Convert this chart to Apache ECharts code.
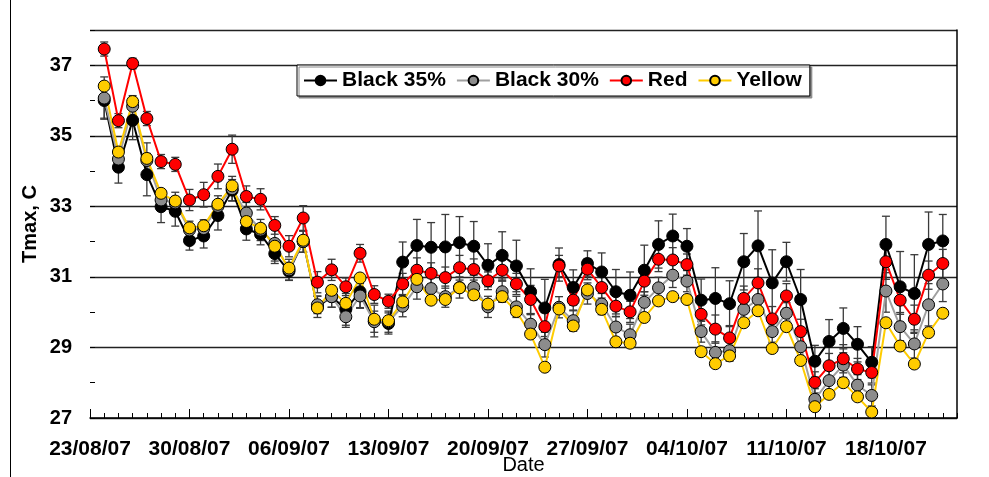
<!DOCTYPE html>
<html>
<head>
<meta charset="utf-8">
<script src="https://cdn.jsdelivr.net/npm/echarts@6/dist/echarts.min.js"></script>
<style>
html,body{margin:0;padding:0;background:#fff;}
#chart{width:989px;height:477px;}
</style>
</head>
<body>
<div id="chart"></div>
<script>
// Start date for day 0 of the x axis
const startDate = [2007, 7, 23];
const dayStart = 1; // first measurement day (24/08/07)

const black35 = [36.0,34.11,35.44,33.9,32.99,32.86,32.03,32.16,32.74,33.46,32.36,32.21,31.66,31.16,32.0,30.15,30.44,30.08,30.58,29.75,29.68,31.42,31.89,31.84,31.85,31.97,31.87,31.33,31.61,31.31,30.58,30.12,31.35,30.7,31.38,31.14,30.58,30.48,31.19,31.92,32.16,31.87,30.34,30.39,30.24,31.43,31.88,30.83,31.43,30.36,28.61,29.17,29.54,29.09,28.58,31.92,30.72,30.53,31.92,32.02];
const black30 = [36.07,34.34,35.84,34.3,33.18,33.1,32.33,32.37,33.0,33.5,32.81,32.33,31.95,31.2,32.0,30.21,30.44,29.87,30.46,29.73,29.73,30.17,30.72,30.67,30.44,30.7,30.7,30.15,30.58,30.15,29.66,29.08,30.14,29.76,30.53,30.23,29.58,29.36,30.28,30.69,31.05,30.88,29.45,28.86,28.91,30.08,30.36,29.45,29.97,29.02,27.53,28.06,28.5,27.93,27.64,30.6,29.59,29.1,30.21,30.8];
const red = [37.46,35.43,37.05,35.49,34.27,34.19,33.18,33.33,33.85,34.62,33.28,33.2,32.46,31.87,32.67,30.85,31.2,30.72,31.67,30.5,30.31,30.8,31.19,31.1,30.98,31.26,31.21,30.89,31.19,30.8,30.36,29.59,31.31,30.34,31.22,30.7,30.17,30.01,30.88,31.5,31.48,31.35,29.94,29.52,29.27,30.39,30.83,29.81,30.46,29.45,28.01,28.48,28.68,28.39,28.29,31.43,30.34,29.8,31.05,31.38];
const yellow = [36.41,34.54,35.97,34.36,33.37,33.15,32.39,32.45,33.06,33.58,32.57,32.38,31.87,31.25,32.04,30.12,30.62,30.25,30.97,29.8,29.76,30.29,30.93,30.34,30.36,30.69,30.49,30.23,30.44,30.02,29.38,28.44,30.09,29.61,30.63,30.08,29.16,29.12,29.85,30.32,30.44,30.36,28.88,28.54,28.76,29.7,30.04,28.97,29.59,28.63,27.32,27.67,28.0,27.6,27.17,29.7,29.04,28.53,29.42,29.97];

const errBlack35 = [0.5,0.45,0.55,0.6,0.45,0.42,0.27,0.34,0.41,0.3,0.32,0.3,0.28,0.25,0.3,0.3,0.3,0.45,0.45,0.45,0.3,0.57,0.74,0.7,0.92,0.74,0.7,0.61,0.67,0.73,0.65,0.81,0.47,0.5,0.36,0.54,0.63,0.66,0.71,0.67,0.62,0.5,0.6,0.87,0.65,0.8,0.99,0.94,0.55,0.85,0.45,0.62,0.58,0.5,0.44,0.8,1.0,1.1,0.92,0.75];
const errBlack30 = [0.6,0.35,0.3,0.5,0.3,0.3,0.25,0.25,0.3,0.35,0.3,0.3,0.5,0.3,0.3,0.25,0.3,0.3,0.35,0.3,0.3,0.3,0.35,0.35,0.3,0.3,0.35,0.3,0.3,0.3,0.3,0.35,0.3,0.3,0.3,0.3,0.3,0.3,0.3,0.3,0.35,0.3,0.3,0.3,0.3,0.3,0.35,0.3,0.3,0.3,0.3,0.3,0.35,0.3,0.3,0.6,0.4,0.4,0.6,0.5];
const errRed = [0.2,0.2,0.15,0.2,0.2,0.2,0.3,0.35,0.35,0.4,0.3,0.3,0.25,0.3,0.35,0.3,0.3,0.25,0.25,0.25,0.2,0.3,0.35,0.3,0.3,0.35,0.3,0.25,0.3,0.3,0.4,0.4,0.3,0.3,0.3,0.3,0.3,0.3,0.3,0.35,0.35,0.3,0.3,0.4,0.35,0.35,0.4,0.35,0.35,0.35,0.3,0.35,0.4,0.3,0.3,0.5,0.4,0.4,0.4,0.4];

const seriesNames = ['Black 35%','Black 30%','Red','Yellow'];
const yTicks = [27,29,31,33,35,37];

function pts(vals){ return vals.map((v,i)=>[dayStart+i, v]); }
function errs(vals, e){ return vals.map((v,i)=>[dayStart+i, v-e[i], v+e[i]]); }

function fmtDate(v){
  if (v % 7 !== 0) return '';
  const d = new Date(startDate[0], startDate[1], startDate[2] + v);
  const dd = String(d.getDate()).padStart(2,'0');
  const mm = String(d.getMonth()+1).padStart(2,'0');
  const yy = String(d.getFullYear()).slice(2);
  return dd + '/' + mm + '/' + yy;
}

function errRender(params, api){
  const x = api.value(0);
  const lo = api.coord([x, api.value(1)]);
  const hi = api.coord([x, api.value(2)]);
  const w = 4;
  const st = {stroke:'#3a3a3a', lineWidth:1.3};
  return {type:'group', children:[
    {type:'line', shape:{x1:lo[0],y1:lo[1],x2:hi[0],y2:hi[1]}, style:st},
    {type:'line', shape:{x1:lo[0]-w,y1:lo[1],x2:lo[0]+w,y2:lo[1]}, style:st},
    {type:'line', shape:{x1:hi[0]-w,y1:hi[1],x2:hi[0]+w,y2:hi[1]}, style:st}
  ]};
}

const font = 'Liberation Sans, Arial, sans-serif';
const chart = echarts.init(document.getElementById('chart'), null, {renderer:'canvas'});

function lineSeries(name, data, color, fill){
  return {
    name, type:'line', data:pts(data), xAxisIndex:0, yAxisIndex:0,
    symbol:'circle', symbolSize:12, z:5,
    lineStyle:{color:color, width:2},
    itemStyle:{color:fill, borderColor:'#000', borderWidth:1},
    emphasis:{disabled:true}
  };
}
function errSeries(data, e){
  return {type:'custom', renderItem:errRender, data:errs(data,e), xAxisIndex:0, yAxisIndex:0, z:3, silent:true};
}

chart.setOption({
  animation:false,
  backgroundColor:'#fff',
  grid:{left:90, right:32, top:30, bottom:59, containLabel:false, outerBoundsMode:'none'},
  legend:{
    data:seriesNames, left:297, top:65, orient:'horizontal',
    backgroundColor:'#fff', borderColor:'#000', borderWidth:1,
    shadowColor:'#888', shadowOffsetX:2, shadowOffsetY:2, shadowBlur:0,
    padding:[5,8,5,6], itemWidth:33, itemHeight:12, itemGap:10,
    textStyle:{fontFamily:font, fontWeight:'bold', fontSize:21, color:'#000'}
  },
  xAxis:[
    {type:'value', min:0, max:61, interval:7,
     axisLine:{show:true, onZero:false, lineStyle:{color:'#000', width:1.5}},
     axisTick:{show:true, inside:true, length:9, lineStyle:{color:'#000'}},
     axisLabel:{formatter:fmtDate, fontFamily:font, fontWeight:'bold', fontSize:21, color:'#000', margin:21, showMaxLabel:false},
     splitLine:{show:false},
     name:'Date', nameLocation:'middle', nameGap:37, nameMoveOverlap:false,
     nameTextStyle:{fontFamily:font, fontSize:20, color:'#000'}
    },
    {type:'value', min:0, max:61, interval:1, position:'bottom',
     axisLine:{show:false}, axisTick:{show:true, inside:true, length:5, lineStyle:{color:'#000'}},
     axisLabel:{show:false}, splitLine:{show:false}}
  ],
  yAxis:[
    {type:'value', min:27, max:38, interval:2,
     axisLine:{show:false}, axisTick:{show:false},
     axisLabel:{formatter:v=> yTicks.indexOf(v)>=0 ? String(v) : '', fontFamily:font, fontWeight:'bold', fontSize:20, color:'#000', margin:18},
     splitLine:{show:true, lineStyle:{color:'#222', width:1.3}},
     name:'Tmax, C', nameLocation:'middle', nameGap:50, nameRotate:90, nameMoveOverlap:false,
     nameTextStyle:{fontFamily:font, fontWeight:'bold', fontSize:20, color:'#000'}
    },
    {type:'value', min:27, max:38, interval:1, position:'left',
     axisLine:{show:false}, axisTick:{show:true, inside:true, length:5, lineStyle:{color:'#000'}},
     axisLabel:{show:false}, splitLine:{show:false}},
    {type:'value', min:27, max:38, position:'right',
     axisLine:{show:true, lineStyle:{color:'#000', width:1.5}}, axisTick:{show:false},
     axisLabel:{show:false}, splitLine:{show:false}}
  ],
  series:[
    errSeries(black35, errBlack35),
    errSeries(black30, errBlack30),
    errSeries(red, errRed),
    lineSeries('Black 35%', black35, '#000', '#000'),
    lineSeries('Black 30%', black30, '#a0a0a0', '#8c8c8c'),
    lineSeries('Red', red, '#ff0000', '#ff0000'),
    lineSeries('Yellow', yellow, '#ffcc00', '#ffcc00')
  ],
  graphic:[
    {type:'line', shape:{x1:10.5,y1:0,x2:10.5,y2:477}, style:{stroke:'#000', lineWidth:1}}
  ]
});
</script>
</body>
</html>
